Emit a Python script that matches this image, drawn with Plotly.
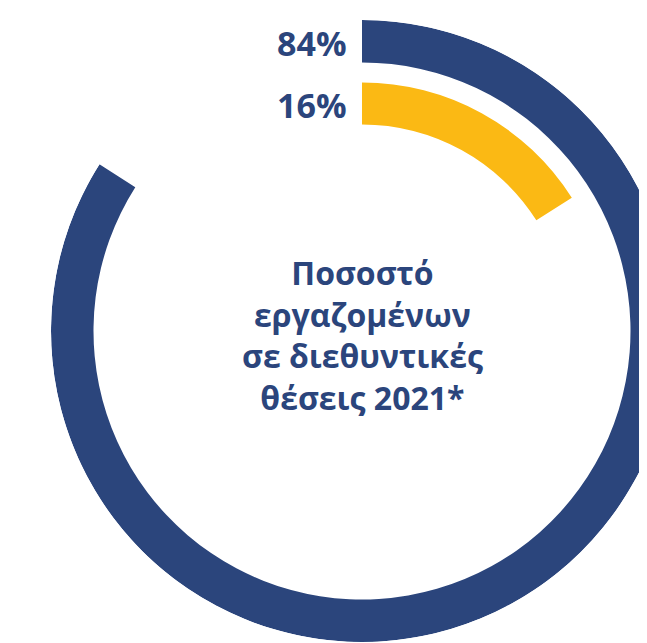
import plotly.graph_objects as go

# Data
labels = ["84%", "16%"]
values = [84, 16]
colors = ["#2b457c", "#fbb914"]
center_title = ["Ποσοστό", "εργαζομένων", "σε διεθυντικές", "θέσεις 2021*"]

# Ring geometry (styles)
ring_base = [268.5, 206.5]
ring_thick = [42.5, 42.0]
R_MAX = 311

fig = go.Figure()
for lab, v, c, b, t in zip(labels, values, colors, ring_base, ring_thick):
    fig.add_trace(go.Barpolar(
        r=[t], base=[b], theta=[v * 3.6 / 2], width=[v * 3.6],
        marker=dict(color=c, line=dict(width=0)),
        name=lab, hoverinfo="skip",
    ))

OFF = 8  # page body margin
W, H = 672, 635
ML, MR, MT, MB = 43, 7, 12, 1
plot_w = W - ML - MR
plot_h = H - MT - MB

fig.update_layout(
    width=W, height=H,
    margin=dict(l=ML, r=MR, t=MT, b=MB),
    paper_bgcolor="white",
    showlegend=False,
    polar=dict(
        bgcolor="white",
        hole=0,
        angularaxis=dict(visible=False, rotation=90, direction="clockwise",
                         showgrid=False, showline=False, ticks=""),
        radialaxis=dict(visible=False, range=[0, R_MAX], showgrid=False,
                        showline=False, ticks=""),
    ),
    barmode="overlay",
)

font_family = "Open Sans"
for lab, b, t in zip(labels, ring_base, ring_thick):
    ring_mid_px = MT + (R_MAX - (b + t / 2)) + 1.5
    fig.add_annotation(
        x=(349 - OFF - ML) / plot_w, y=(H - MB - ring_mid_px) / plot_h,
        xref="paper", yref="paper", xanchor="right", yanchor="middle",
        text=lab, showarrow=False,
        font=dict(family=font_family, size=34, color=colors[0], weight=700),
    )

fig.add_annotation(
    x=(362 - OFF - ML) / plot_w, y=(H - MB - (335 - OFF)) / plot_h,
    xref="paper", yref="paper",
    xanchor="center", yanchor="middle",
    text="<br>".join(center_title), showarrow=False, align="center",
    font=dict(family=font_family, size=32, color=colors[0], weight=700),
)

fig.write_html("out.html")
